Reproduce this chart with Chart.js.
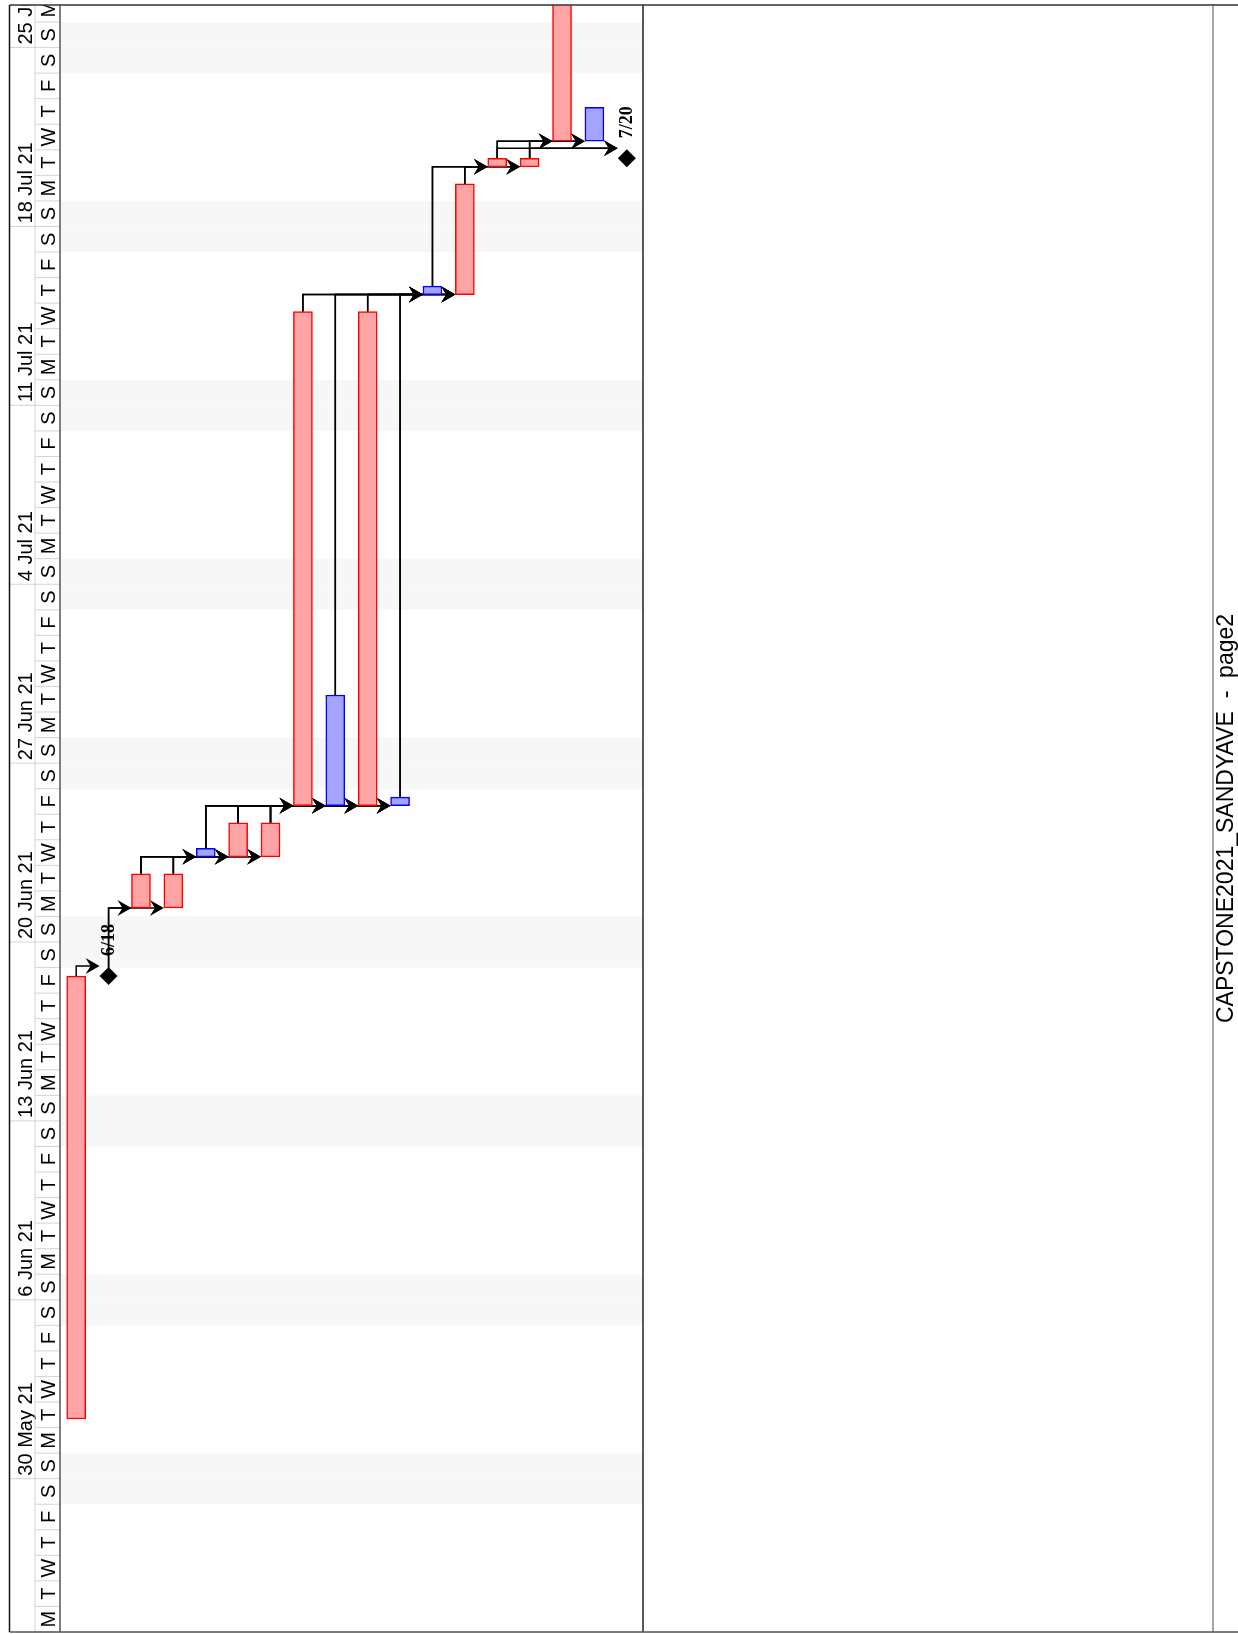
<!DOCTYPE html>
<html>
<head>
<meta charset="utf-8">
<title>CAPSTONE2021_SANDYAVE - page2</title>
<script src="https://cdn.jsdelivr.net/npm/chart.js@4.4.0/dist/chart.umd.min.js"></script>
<style>
  html, body { margin: 0; padding: 0; background: #fff; }
  #wrap { position: relative; width: 1238px; height: 1634px; }
</style>
</head>
<body>
<div id="wrap"><canvas id="gantt"></canvas></div>
<script>
// Gantt page, time runs bottom -> top, one column per task
const pageTitle = 'CAPSTONE2021_SANDYAVE  -  page2';
const viewStart = '2021-05-24 00:00';
const viewEnd = '2021-07-26 16:00';

const taskNames = ['Task 1', 'Milestone 6/18', 'Task 3', 'Task 4', 'Task 5', 'Task 6', 'Task 7', 'Task 8', 'Task 9',
  'Task 10', 'Task 11', 'Task 12', 'Task 13', 'Task 14', 'Task 15', 'Task 16', 'Task 17', 'Milestone 7/20'];
const taskStarts = ['2021-06-01 08:00', null, '2021-06-21 08:00', '2021-06-21 08:00', '2021-06-23 08:00',
  '2021-06-23 08:00', '2021-06-23 08:00', '2021-06-25 08:00', '2021-06-25 08:00', '2021-06-25 08:00',
  '2021-06-25 08:00', '2021-07-15 08:00', '2021-07-15 08:00', '2021-07-20 08:00', '2021-07-20 08:00',
  '2021-07-21 08:00', '2021-07-21 08:00', null];
const taskEnds = ['2021-06-18 16:00', null, '2021-06-22 16:00', '2021-06-22 16:00', '2021-06-23 16:00',
  '2021-06-24 16:00', '2021-06-24 16:00', '2021-07-14 16:00', '2021-06-29 16:00', '2021-07-14 16:00',
  '2021-06-25 16:00', '2021-07-15 16:00', '2021-07-19 16:00', '2021-07-20 16:00', '2021-07-20 16:00',
  '2021-08-03 16:00', '2021-07-22 16:00', null];
const taskCritical = [true, false, true, true, false, true, true, true, false, true, false, false, true, true, true, true, false, false];

const milestoneDates = [null, '2021-06-18 16:00', null, null, null, null, null, null, null,
  null, null, null, null, null, null, null, null, '2021-07-20 16:00'];
const milestoneLabels = [null, '6/18', null, null, null, null, null, null, null,
  null, null, null, null, null, null, null, null, '7/20'];

// [predecessor, successor]
const links = [[0, 1], [1, 2], [1, 3],
  [2, 4], [2, 5], [2, 6], [3, 4], [3, 5], [3, 6],
  [4, 7], [4, 8], [4, 9], [4, 10], [5, 7], [5, 8], [5, 9], [5, 10], [6, 7], [6, 8], [6, 9], [6, 10],
  [7, 11], [7, 12], [8, 11], [8, 12], [9, 11], [9, 12], [10, 11], [10, 12],
  [11, 13], [11, 14], [12, 13], [12, 14],
  [13, 15], [13, 16], [13, 17], [14, 15], [14, 16], [14, 17]];

const weekStarts = ['2021-05-30', '2021-06-06', '2021-06-13', '2021-06-20', '2021-06-27',
  '2021-07-04', '2021-07-11', '2021-07-18', '2021-07-25'];
const weekLabels = ['30 May 21', '6 Jun 21', '13 Jun 21', '20 Jun 21', '27 Jun 21',
  '4 Jul 21', '11 Jul 21', '18 Jul 21', '25 Jul 21'];
const dayLetters = ['S', 'M', 'T', 'W', 'T', 'F', 'S'];

const DAY = 86400000;
function stamp(s) {
  const [d, t] = s.split(' ');
  const [Y, M, D] = d.split('-').map(Number);
  const [h, m] = (t || '00:00').split(':').map(Number);
  return Date.UTC(Y, M - 1, D, h, m);
}
const base = stamp(viewStart);
const toDay = s => (stamp(s) - base) / DAY;

const startOf = i => toDay(taskStarts[i] || milestoneDates[i]);
const finishOf = i => toDay(taskEnds[i] || milestoneDates[i]);

const RED = '#ff0000', RED_FILL = '#ffa4a4';
const BLUE = '#0000ff', BLUE_FILL = '#a4a4ff';
const BAR_W = 19, DIAMOND = 9;

// weekend bands behind everything, then dependency arrows
const backdrop = {
  id: 'backdrop',
  beforeDatasetsDraw(chart) {
    const { ctx, chartArea: a, scales: { x, y } } = chart;
    ctx.save();
    ctx.beginPath();
    ctx.rect(a.left, a.top, a.right - a.left, a.bottom - a.top);
    ctx.clip();
    ctx.fillStyle = '#f7f7f7';
    for (let k = Math.floor(y.min); k < Math.ceil(y.max); k++) {
      const wd = new Date(base + k * DAY).getUTCDay();
      if (wd === 0 || wd === 6) {
        const y0 = y.getPixelForValue(k), y1 = y.getPixelForValue(k + 1);
        ctx.fillRect(a.left, y1, a.right - a.left, y0 - y1);
      }
    }
    ctx.strokeStyle = '#000';
    ctx.fillStyle = '#000';
    ctx.lineWidth = 1.5;
    links.forEach(([from, to]) => {
      const x0 = x.getPixelForValue(from);
      const yEnd = y.getPixelForValue(finishOf(from));
      const ySucc = y.getPixelForValue(startOf(to));
      const level = Math.min(yEnd - 10, ySucc);
      const tip = x.getPixelForValue(to) - (taskStarts[to] ? BAR_W / 2 : DIAMOND);
      ctx.beginPath();
      ctx.moveTo(x0, yEnd);
      ctx.lineTo(x0, level);
      ctx.lineTo(tip - 9, level);
      ctx.stroke();
      ctx.beginPath();
      ctx.moveTo(tip, level);
      ctx.lineTo(tip - 14, level - 8);
      ctx.lineTo(tip - 9, level);
      ctx.lineTo(tip - 14, level + 8);
      ctx.closePath();
      ctx.fill();
    });
    ctx.restore();
  }
};

// date header on the left, frame, milestone labels, page title
const frame = {
  id: 'frame',
  afterDraw(chart) {
    const { ctx, chartArea: a, scales: { x, y } } = chart;
    const W = chart.width;
    const colL = 9.5, colM = 35, colR = a.left;
    ctx.save();
    ctx.beginPath();
    ctx.rect(0, a.top, W, a.bottom - a.top);
    ctx.clip();

    // day cells
    ctx.font = '20px "Liberation Sans", Arial, sans-serif';
    ctx.fillStyle = '#000';
    ctx.strokeStyle = '#d4d4d4';
    ctx.lineWidth = 1;
    for (let k = Math.floor(y.min); k <= Math.ceil(y.max); k++) {
      const y0 = y.getPixelForValue(k), y1 = y.getPixelForValue(k + 1);
      ctx.beginPath();
      ctx.moveTo(colM, y0);
      ctx.lineTo(colR, y0);
      ctx.stroke();
      const wd = new Date(base + k * DAY).getUTCDay();
      ctx.save();
      ctx.translate(colR - 5, (y0 + y1) / 2);
      ctx.rotate(-Math.PI / 2);
      ctx.textAlign = 'center';
      ctx.textBaseline = 'alphabetic';
      ctx.fillText(dayLetters[wd], 0, 0);
      ctx.restore();
    }
    // weeks
    weekStarts.forEach((ws, i) => {
      const yb = y.getPixelForValue(toDay(ws + ' 00:00'));
      ctx.beginPath();
      ctx.moveTo(colL, yb);
      ctx.lineTo(colM, yb);
      ctx.stroke();
      ctx.save();
      ctx.translate(colM - 3, yb - 3);
      ctx.rotate(-Math.PI / 2);
      ctx.textAlign = 'left';
      ctx.fillText(weekLabels[i], 0, 0);
      ctx.restore();
    });

    // milestone labels
    ctx.font = 'bold 18px "Liberation Serif", "Times New Roman", serif';
    milestoneLabels.forEach((lab, i) => {
      if (!lab) return;
      const px = x.getPixelForValue(i), py = y.getPixelForValue(toDay(milestoneDates[i]));
      ctx.save();
      ctx.translate(px + 5, py - 20);
      ctx.rotate(-Math.PI / 2);
      ctx.textAlign = 'left';
      ctx.fillText(lab, 0, 0);
      ctx.restore();
    });
    ctx.restore();

    // frame lines
    ctx.save();
    const line = (x0, y0, x1, y1, c, w) => {
      ctx.strokeStyle = c; ctx.lineWidth = w;
      ctx.beginPath(); ctx.moveTo(x0, y0); ctx.lineTo(x1, y1); ctx.stroke();
    };
    line(colM, a.top, colM, a.bottom, '#d4d4d4', 1);
    line(colL, a.top, colL, a.bottom, '#111', 1.5);
    line(colR, a.top, colR, a.bottom, '#555', 1.5);
    line(a.right, a.top, a.right, a.bottom, '#222', 1.5);
    line(1213, a.top, 1213, a.bottom, '#888', 1.5);
    line(colL, a.top, W, a.top, '#333', 1.5);
    line(colL, a.bottom, W, a.bottom, '#555', 1.5);

    ctx.fillStyle = '#000';
    ctx.font = '23px "Liberation Sans", Arial, sans-serif';
    ctx.translate(1233, (a.top + a.bottom) / 2);
    ctx.rotate(-Math.PI / 2);
    ctx.textAlign = 'center';
    ctx.fillText(pageTitle, 0, 0);
    ctx.restore();
  }
};

new Chart(document.getElementById('gantt'), {
  type: 'bar',
  data: {
    labels: taskNames,
    datasets: [{
      data: taskNames.map((n, i) => taskStarts[i] ? [toDay(taskStarts[i]), toDay(taskEnds[i])] : null),
      backgroundColor: taskCritical.map(c => c ? RED_FILL : BLUE_FILL),
      borderColor: taskCritical.map(c => c ? RED : BLUE),
      borderWidth: 1.5,
      borderSkipped: false,
      barThickness: BAR_W,
      order: 1
    }, {
      type: 'line',
      data: milestoneDates.map(d => d ? toDay(d) : null),
      showLine: false,
      pointStyle: 'rectRot',
      pointRadius: DIAMOND,
      pointBackgroundColor: '#000',
      pointBorderColor: '#000',
      pointBorderWidth: 0,
      order: 0
    }]
  },
  options: {
    responsive: true,
    maintainAspectRatio: false,
    animation: false,
    events: [],
    layout: { autoPadding: false, padding: { left: 60, right: 595, top: 5, bottom: 2 } },
    plugins: { legend: { display: false }, tooltip: { enabled: false } },
    scales: {
      x: { display: false },
      y: { display: false, min: 0, max: toDay(viewEnd) }
    }
  },
  plugins: [backdrop, frame]
});
</script>
</body>
</html>
